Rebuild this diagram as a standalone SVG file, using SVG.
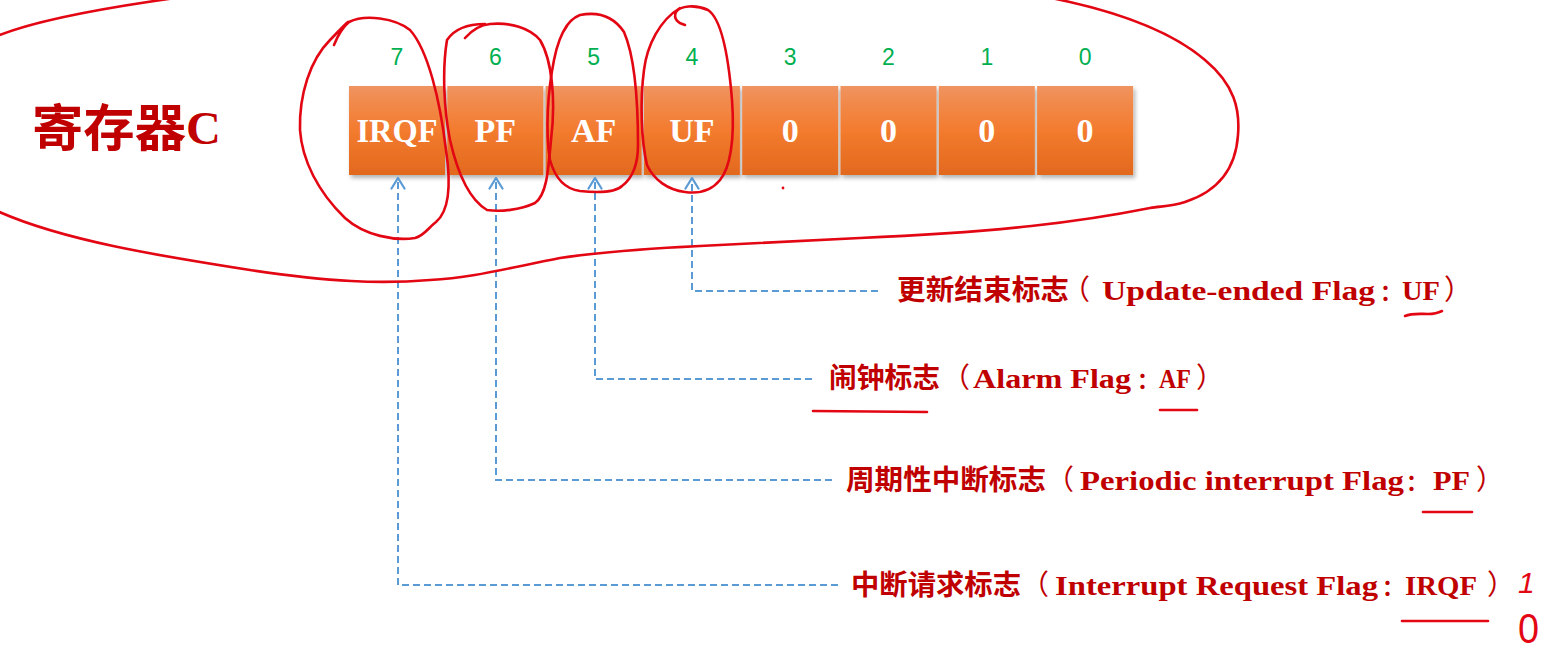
<svg xmlns="http://www.w3.org/2000/svg" width="1560" height="670" viewBox="0 0 1560 670">
<defs>
<linearGradient id="og" x1="0" y1="0" x2="0" y2="1">
<stop offset="0" stop-color="#ef9461"/>
<stop offset="0.18" stop-color="#f18a4c"/>
<stop offset="0.5" stop-color="#f37b2e"/>
<stop offset="1" stop-color="#e2691e"/>
</linearGradient>
<filter id="sh" x="-10%" y="-10%" width="125%" height="130%">
<feDropShadow dx="2" dy="3" stdDeviation="2" flood-color="#000" flood-opacity="0.3"/>
</filter>
<marker id="arr" viewBox="0 0 13 16" refX="11.5" refY="8" markerWidth="13" markerHeight="16" markerUnits="userSpaceOnUse" orient="auto">
<path d="M1,1.5 L11.5,8 L1,14.5" fill="none" stroke="#5b9bd5" stroke-width="2.2" stroke-linecap="round"/>
</marker>
<style>
.box{fill:url(#og);filter:url(#sh)}
.bt{font-family:"Liberation Serif",serif;font-weight:700;font-size:34px;fill:#fff;text-anchor:middle}
.bn{font-family:"Liberation Sans",Arial,sans-serif;font-size:23px;fill:#00b050;text-anchor:middle}
.title{font-family:"Noto Sans CJK SC",sans-serif;font-weight:700;font-size:50px;fill:#c00000}
.cjk{font-family:"Noto Sans CJK SC",sans-serif;font-weight:700;font-size:28px}
.col{font-family:"Noto Sans CJK SC",sans-serif;font-weight:700;font-size:22px}
.lat{font-family:"Liberation Serif","Noto Sans CJK SC",serif;font-weight:700;font-size:28px}
.pn{font-family:"Noto Sans CJK SC",sans-serif;font-weight:400;font-size:28px}
.lbl{fill:#c00000}
.con{fill:none;stroke:#5b9bd5;stroke-width:2;stroke-dasharray:7 4;marker-end:url(#arr)}
.ink{fill:none;stroke:#e30613;stroke-width:2.6;stroke-linecap:round;stroke-linejoin:round}
.hw{font-family:"Liberation Sans",sans-serif;fill:#e30613}
</style>
</defs>
<rect width="1560" height="670" fill="#fff"/>

<g id="title">
<text class="title" x="32" y="146" textLength="189" lengthAdjust="spacingAndGlyphs">寄存器<tspan font-family="Liberation Serif,serif" font-size="47" dy="-2">C</tspan></text>
</g>

<g id="bit7"><rect class="box" x="349" y="86" width="96" height="89"/><text class="bn" x="397" y="65">7</text><text class="bt" x="397" y="142" textLength="81" lengthAdjust="spacingAndGlyphs">IRQF</text></g>
<g id="bit6"><rect class="box" x="447.3" y="86" width="96" height="89"/><text class="bn" x="495.3" y="65">6</text><text class="bt" x="495.3" y="142">PF</text></g>
<g id="bit5"><rect class="box" x="545.6" y="86" width="96" height="89"/><text class="bn" x="593.6" y="65">5</text><text class="bt" x="593.6" y="142">AF</text></g>
<g id="bit4"><rect class="box" x="643.9" y="86" width="96" height="89"/><text class="bn" x="691.9" y="65">4</text><text class="bt" x="691.9" y="142">UF</text></g>
<g id="bit3"><rect class="box" x="742.2" y="86" width="96" height="89"/><text class="bn" x="790.2" y="65">3</text><text class="bt" x="790.2" y="142">0</text></g>
<g id="bit2"><rect class="box" x="840.5" y="86" width="96" height="89"/><text class="bn" x="888.5" y="65">2</text><text class="bt" x="888.5" y="142">0</text></g>
<g id="bit1"><rect class="box" x="938.8" y="86" width="96" height="89"/><text class="bn" x="986.8" y="65">1</text><text class="bt" x="986.8" y="142">0</text></g>
<g id="bit0"><rect class="box" x="1037.1" y="86" width="96" height="89"/><text class="bn" x="1085.1" y="65">0</text><text class="bt" x="1085.1" y="142">0</text></g>

<g id="connectors">
<path class="con" d="M878,291 H692 V178"/>
<path class="con" d="M812,379 H595 V178"/>
<path class="con" d="M832,480 H496 V178"/>
<path class="con" d="M838,585 H398 V178"/>
</g>

<g id="label-uf">
<text class="lbl" y="300"><tspan class="cjk" x="897" textLength="172" lengthAdjust="spacingAndGlyphs">更新结束标志</tspan><tspan class="pn" x="1062">（</tspan><tspan class="lat" x="1102" textLength="273" lengthAdjust="spacingAndGlyphs">Update-ended Flag</tspan><tspan class="col" x="1380">：</tspan><tspan class="lat" x="1402" textLength="38" lengthAdjust="spacingAndGlyphs">UF</tspan><tspan class="pn" x="1444">）</tspan></text>
</g>
<g id="label-af">
<text class="lbl" y="388"><tspan class="cjk" x="829" textLength="111" lengthAdjust="spacingAndGlyphs">闹钟标志</tspan><tspan class="pn" x="942">（</tspan><tspan class="lat" x="973" textLength="158" lengthAdjust="spacingAndGlyphs">Alarm Flag</tspan><tspan class="col" x="1137">：</tspan><tspan class="lat" x="1159" textLength="32" lengthAdjust="spacingAndGlyphs">AF</tspan><tspan class="pn" x="1196">）</tspan></text>
</g>
<g id="label-pf">
<text class="lbl" y="490"><tspan class="cjk" x="846" textLength="200" lengthAdjust="spacingAndGlyphs">周期性中断标志</tspan><tspan class="pn" x="1046">（</tspan><tspan class="lat" x="1080" textLength="324" lengthAdjust="spacingAndGlyphs">Periodic interrupt Flag</tspan><tspan class="col" x="1406">：</tspan><tspan class="lat" x="1433" textLength="37" lengthAdjust="spacingAndGlyphs">PF</tspan><tspan class="pn" x="1476">）</tspan></text>
</g>
<g id="label-irqf">
<text class="lbl" y="595"><tspan class="cjk" x="851" textLength="170" lengthAdjust="spacingAndGlyphs">中断请求标志</tspan><tspan class="pn" x="1021">（</tspan><tspan class="lat" x="1055" textLength="323" lengthAdjust="spacingAndGlyphs">Interrupt Request Flag</tspan><tspan class="col" x="1382">：</tspan><tspan class="lat" x="1405" textLength="72" lengthAdjust="spacingAndGlyphs">IRQF</tspan><tspan class="pn" x="1487">）</tspan></text>
</g>

<g id="annotations">
<path class="ink" d="M-5,37 C30,22 100,8 190,-4"/>
<path class="ink" d="M1030,-6 C1110,8 1170,30 1205,60 C1235,85 1240,110 1238,135 C1236,165 1222,190 1185,202 C1170,207 1160,206 1150,208 C1080,222 1000,232 860,238 C780,242 740,244 700,246 C640,249 600,252 560,258 C500,270 470,278 430,280 C380,284 330,282 250,270 C160,256 60,240 -5,210"/>
<path class="ink" d="M334,45 C338,35 343,27 349,22 C365,14 395,18 410,30 C428,50 440,100 446,150 C452,190 448,212 436,222 C428,228 424,236 415,238 C395,241 365,236 345,218 C318,192 302,160 300,130 C299,95 310,60 330,40 C338,32 343,26 348,22"/>
<path class="ink" d="M465,38 C472,30 480,25 490,24 C510,22 530,28 540,40 C552,60 556,100 551,140 C548,175 546,195 535,203 C520,210 500,212 487,210 C470,200 458,175 450,140 C444,110 442,70 447,40 C455,28 470,24 485,24"/>
<path class="ink" d="M563,32 C567,24 572,18 580,15 C595,12 612,14 624,32 C634,55 638,100 638,145 C638,168 630,180 622,186 C616,192 600,193 580,191 C565,189 555,178 550,160 C545,130 548,90 554,60 C557,45 560,35 567,26"/>
<path class="ink" d="M685,25 C678,23 673,19 676,12 C680,6 695,4 708,10 C720,18 728,50 732,100 C735,140 730,168 720,180 C712,190 700,194 685,192 C668,190 654,180 647,165 C641,140 640,100 644,70 C647,45 660,20 680,8"/>
<circle cx="783" cy="188" r="1.4" fill="#e30613"/>
<path class="ink" d="M1405,316 C1412,313 1420,314 1428,314 C1434,314 1438,313 1442,311"/>
<path class="ink" d="M813,411 L927,412"/>
<path class="ink" d="M1160,410 L1197,410"/>
<path class="ink" d="M1423,512 L1472,512"/>
<path class="ink" d="M1402,621 L1488,621"/>
<text class="hw" x="1518" y="593" font-size="30" font-style="italic">1</text>
<text class="hw" x="1518" y="643" font-size="42" textLength="21" lengthAdjust="spacingAndGlyphs">0</text>
</g>
</svg>
